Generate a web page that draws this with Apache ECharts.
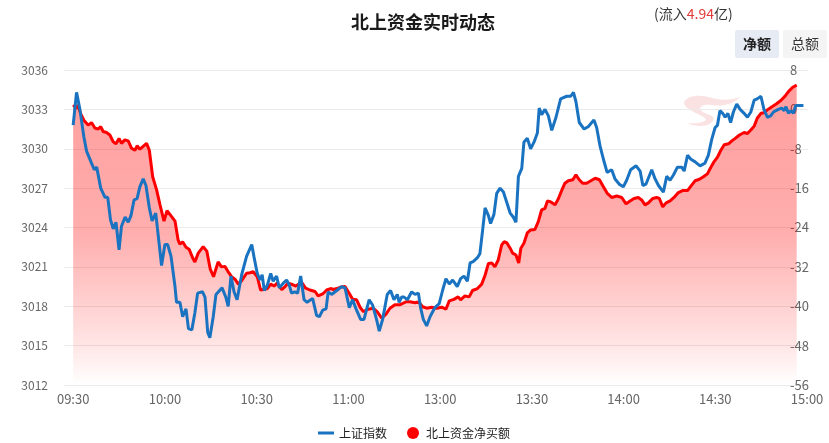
<!DOCTYPE html>
<html><head><meta charset="utf-8">
<script src="https://cdn.jsdelivr.net/npm/echarts@6/dist/echarts.min.js"></script>
<style>html,body{margin:0;padding:0;background:#fff}#c{width:829px;height:443px}</style>
</head><body><div id="c"></div>
<script>
// minutes since 09:30 (trading minutes, lunch break removed)
const tickMinutes = [0, 30, 60, 90, 120, 150, 180, 210, 240];
const tickLabels = ['09:30', '10:00', '10:30', '11:00', '13:00', '13:30', '14:00', '14:30', '15:00'];

// 上证指数
const indexMinutes = [0,1.1,2.2,3.5,4.4,6.0,6.9,7.7,8.2,9.0,
10.4,11.3,12.2,13.1,14.0,15.0,15.8,17.0,18.0,18.9,
19.9,20.9,21.8,22.9,23.8,24.9,25.8,27.0,28.0,28.9,
30.0,30.9,32.0,33.3,33.8,34.9,35.8,36.9,37.7,38.8,
39.8,40.7,42.3,43.1,44.0,44.7,45.8,46.7,48.7,49.9,
50.7,51.6,52.6,53.6,55.1,56.7,58.4,59.1,60.2,61.1,
61.8,62.5,63.5,64.6,65.4,66.5,67.4,68.5,69.8,70.7,
71.4,72.5,73.4,74.4,75.5,76.5,78.3,79.6,80.5,81.6,
82.7,83.4,84.5,86.2,87.8,88.9,90.3,91.4,92.5,94.0,
95.1,96.8,97.9,99.2,100.1,101.2,102.7,103.8,104.9,106.0,
106.6,107.4,108.2,109.3,110.7,111.8,112.9,113.6,114.5,115.6,
116.7,118.3,119.7,120.8,121.9,123.0,124.1,125.6,126.7,127.8,
128.9,129.8,130.8,132.2,133.0,133.9,134.7,135.8,136.5,137.6,
138.5,139.6,140.7,141.8,142.9,143.9,144.8,145.6,146.7,147.4,
148.5,149.6,150.7,151.8,152.4,153.2,154.3,155.4,156.5,157.9,
159.4,161.4,162.7,163.6,164.4,165.5,167.1,168.5,170.3,171.2,
172.3,173.4,174.6,176.1,177.2,178.6,179.9,181.0,182.3,184.1,
185.4,186.3,187.3,189.2,190.3,191.4,193.0,194.1,195.2,196.3,
197.6,199.0,199.8,200.9,202.0,203.4,205.0,206.6,207.7,208.8,
209.9,210.7,211.5,212.4,213.2,214.1,215.0,215.9,217.0,218.1,
219.4,220.5,221.6,222.7,223.7,224.9,225.9,227.0,228.1,229.0,
230.6,231.7,232.5,233.1,233.9,234.7,235.5,236.3,237.2,238.8];
const indexValues = [3031.8,3034.3,3033.0,3030.9,3029.8,3028.9,3028.4,3028.6,3028.5,3027.0,
3026.3,3026.3,3024.6,3023.9,3024.4,3022.3,3024.1,3024.8,3024.4,3024.9,
3026.1,3026.2,3027.1,3027.7,3027.2,3025.5,3024.5,3025.1,3023.0,3021.1,
3022.7,3022.7,3021.8,3019.5,3018.3,3018.3,3017.2,3017.8,3016.3,3016.2,
3017.5,3019.0,3019.1,3018.7,3016.0,3015.6,3017.2,3018.9,3019.4,3018.7,
3018.0,3020.3,3019.1,3018.5,3020.4,3021.8,3022.7,3021.8,3020.5,3020.0,
3020.4,3019.2,3019.6,3020.5,3019.9,3020.3,3019.4,3019.7,3020.0,3019.6,
3019.0,3019.1,3019.0,3020.3,3018.5,3018.3,3018.6,3017.3,3017.2,3017.7,
3017.8,3019.1,3018.9,3019.2,3019.5,3019.4,3017.9,3018.5,3017.8,3017.0,
3017.0,3018.5,3018.1,3017.0,3016.1,3017.0,3018.9,3019.2,3018.5,3018.9,
3018.3,3018.7,3018.7,3018.5,3019.1,3018.9,3019.0,3017.9,3017.0,3016.5,
3017.2,3017.9,3018.2,3019.2,3020.1,3019.7,3020.0,3019.5,3020.1,3020.3,
3019.9,3021.3,3021.4,3021.7,3022.0,3023.8,3025.5,3024.9,3024.3,3025.0,
3026.6,3027.0,3026.7,3025.9,3025.1,3024.8,3024.4,3027.9,3028.5,3030.5,
3030.8,3030.0,3030.5,3031.2,3033.1,3032.6,3033.0,3032.5,3031.4,3032.4,
3033.8,3034.0,3034.0,3034.3,3033.6,3032.0,3031.5,3031.7,3032.2,3031.6,
3030.2,3029.2,3028.2,3028.4,3027.7,3027.3,3027.1,3027.6,3028.4,3028.7,
3028.3,3027.2,3027.3,3028.4,3027.7,3027.2,3026.7,3027.9,3027.6,3028.0,
3028.6,3028.6,3028.3,3029.5,3029.2,3029.0,3028.7,3028.9,3029.5,3030.7,
3031.6,3031.8,3032.9,3032.7,3032.4,3032.7,3032.0,3032.8,3033.4,3033.0,
3032.7,3032.4,3032.8,3033.7,3033.8,3034.0,3033.0,3032.4,3032.5,3032.8,
3033.0,3033.1,3032.9,3033.2,3032.7,3032.9,3032.7,3033.3,3033.3,3033.3];

// 北上资金净买额 (亿)
const flowMinutes = [0,1.1,1.6,2.4,3.5,4.9,6.0,7.1,8.2,9.0,
9.8,10.9,12.0,13.1,14.0,15.0,15.8,16.9,18.0,19.1,
20.2,20.9,21.8,22.7,24.0,24.9,26.0,27.3,28.4,29.7,
30.7,32.2,33.3,34.3,34.9,35.8,36.9,37.9,39.1,39.8,
40.9,42.5,43.7,44.8,45.9,47.4,48.5,49.6,50.7,51.8,
52.9,54.0,55.1,56.7,57.8,58.9,60.2,61.3,62.4,63.5,
64.6,65.7,66.7,68.2,69.3,70.3,71.4,72.8,73.8,74.9,
76.0,77.4,79.1,80.1,81.6,82.9,84.2,85.1,86.2,87.5,
88.9,90.3,91.4,92.7,93.8,94.9,96.5,98.1,99.4,100.9,
102.3,103.6,105.2,106.9,108.8,110.1,111.8,112.9,114.3,115.6,
117.2,118.9,120.5,121.9,123.0,124.5,125.9,126.7,128.1,129.5,
130.6,132.2,133.6,134.7,135.8,136.9,137.9,139.0,140.1,140.9,
141.8,142.9,143.7,144.8,145.7,146.4,147.4,148.5,149.6,151.0,
152.1,153.2,154.3,155.1,156.2,157.6,158.7,159.8,160.8,161.9,
163.4,164.4,165.5,166.6,167.9,169.3,170.7,172.1,173.3,174.6,
176.1,177.8,179.4,180.8,182.1,183.4,184.8,185.9,187.0,188.1,
189.5,190.8,191.7,192.8,193.9,195.2,196.5,197.9,199.3,200.9,
202.0,203.4,204.8,206.1,207.4,208.5,209.6,210.7,211.8,212.9,
214.3,215.4,216.5,217.9,219.4,220.5,221.6,222.7,223.7,224.9,
225.9,227.0,228.4,229.9,231.4,232.8,233.9,235.3,236.6];
const flowValues = [0.9,0.2,0.9,-0.8,-2.2,-3.2,-2.7,-3.8,-4.0,-3.5,
-4.5,-4.7,-5.2,-6.6,-7.0,-5.9,-6.9,-6.2,-6.4,-7.9,
-8.3,-7.4,-8.1,-7.6,-6.9,-8.3,-13.7,-16.4,-19.4,-22.7,
-20.6,-21.8,-22.7,-26.5,-27.4,-26.9,-28.0,-28.4,-30.2,-31.0,
-29.2,-27.9,-28.8,-32.4,-34.0,-31.0,-32.0,-31.9,-33.0,-34.0,
-34.5,-35.5,-34.8,-33.3,-33.2,-33.0,-34.0,-36.7,-36.6,-36.4,
-35.5,-35.9,-35.3,-36.6,-36.0,-35.3,-35.5,-35.9,-35.5,-35.3,
-36.3,-36.7,-37.0,-37.9,-37.5,-36.7,-36.4,-36.6,-36.4,-36.1,
-36.0,-37.4,-38.6,-38.7,-40.2,-41.1,-40.6,-40.4,-41.1,-42.4,
-41.6,-40.4,-39.7,-39.7,-39.1,-39.1,-39.3,-39.1,-40.1,-40.4,
-40.2,-40.4,-40.2,-40.6,-38.9,-38.6,-38.1,-38.7,-37.9,-38.1,
-36.8,-36.4,-35.5,-33.7,-31.3,-31.2,-32.0,-30.6,-27.6,-26.9,
-27.1,-28.2,-29.2,-29.6,-31.2,-28.2,-27.2,-25.1,-24.5,-24.4,
-22.8,-20.4,-20.1,-18.6,-18.8,-19.4,-18.1,-16.4,-15.0,-14.5,
-14.3,-13.3,-14.3,-15.0,-15.0,-14.5,-14.0,-14.3,-15.6,-17.0,
-17.9,-17.6,-17.9,-19.2,-18.6,-18.1,-17.9,-18.4,-19.4,-19.0,
-18.1,-17.9,-18.1,-19.8,-19.0,-18.6,-17.9,-16.9,-16.5,-16.5,
-15.6,-14.5,-14.2,-13.7,-13.1,-11.8,-10.6,-9.7,-8.3,-7.2,
-7.0,-6.4,-5.9,-5.2,-4.7,-4.9,-4.2,-3.4,-1.8,-0.8,
-0.7,-0.1,0.5,1.1,1.8,2.7,3.6,4.5,4.94];

const netInflow = '4.94';

const FONT = '"Noto Sans CJK SC", "Noto Sans", sans-serif';
const chart = echarts.init(document.getElementById('c'), null, {renderer: 'canvas'});

const indexData = indexMinutes.map((m, i) => [m, indexValues[i]]);
const flowData = flowMinutes.map((m, i) => [m, flowValues[i]]);

const logoSvg = 'data:image/svg+xml;utf8,' + encodeURIComponent(
  '<svg xmlns="http://www.w3.org/2000/svg" width="60" height="34" viewBox="0 0 60 34">' +
  '<path d="M2,10 C6,3 18,2 30,6 C40,9 50,8 58,5 C52,12 40,15 30,13 C24,12 18,13 18,17 C20,21 26,22 30,24 C34,27 30,33 20,34 C14,34 8,33 6,31 C16,32 24,30 24,27 C22,24 14,22 10,19 C6,17 2,14 2,10 Z" fill="rgb(238,140,140)" fill-opacity="0.25"/>' +
  '</svg>');

const option = {
  animation: false,
  backgroundColor: '#fff',
  textStyle: {fontFamily: FONT},
  title: {
    text: '北上资金实时动态',
    left: 346, top: 8,
    textStyle: {fontSize: 18, fontWeight: 'bold', color: '#1a1a1a', fontFamily: FONT}
  },
  graphic: [
    {
      type: 'text', x: 654, y: 7,
      style: {
        text: '{a|(流入}{b|' + netInflow + '}{a|亿)}',
        rich: {
          a: {fontSize: 14, fill: '#333', fontFamily: FONT},
          b: {fontSize: 14, fill: '#e23b3b', fontFamily: FONT}
        }
      }
    },
    {type: 'rect', shape: {x: 735, y: 30, width: 44, height: 28, r: 2}, style: {fill: '#e7ebf4'}},
    {type: 'text', x: 757, y: 44, style: {text: '净额', fontSize: 14, fontWeight: 'bold', fill: '#222', align: 'center', verticalAlign: 'middle', fontFamily: FONT}},
    {type: 'rect', shape: {x: 783, y: 30, width: 44, height: 28, r: 2}, style: {fill: '#f4f4f5'}},
    {type: 'text', x: 805, y: 44, style: {text: '总额', fontSize: 14, fill: '#333', align: 'center', verticalAlign: 'middle', fontFamily: FONT}},
    {type: 'image', x: 682, y: 92, z: 0, silent: true, style: {image: logoSvg, width: 60, height: 34}}
  ],
  legend: {
    left: 313, top: 422,
    itemGap: 20, itemWidth: 16, itemHeight: 12,
    textStyle: {fontSize: 12, color: '#222', fontFamily: FONT},
    data: [
      {name: '上证指数', icon: 'path://M0,0H16V3H0Z'},
      {name: '北上资金净买额', icon: 'circle'}
    ]
  },
  grid: {left: 64, right: 21, top: 70, bottom: 58, containLabel: false, outerBoundsMode: 'none'},
  xAxis: {
    type: 'value', min: -3, max: 240.3,
    axisLine: {show: false}, axisTick: {show: false}, splitLine: {show: false},
    axisLabel: {
      customValues: tickMinutes,
      formatter: v => tickLabels[tickMinutes.indexOf(v)],
      color: '#666', fontSize: 13, margin: 8, fontFamily: FONT
    }
  },
  yAxis: [
    {
      type: 'value', position: 'left', min: 3012, max: 3036, interval: 3,
      axisLine: {show: false}, axisTick: {show: false},
      splitLine: {lineStyle: {color: '#ebebeb', width: 1}},
      axisLabel: {color: '#666', fontSize: 12, margin: 16, fontFamily: FONT, formatter: v => String(v)}
    },
    {
      type: 'value', position: 'right', min: -56, max: 8, interval: 8, offset: -20,
      axisLine: {show: false}, axisTick: {show: false}, splitLine: {show: false},
      axisLabel: {color: '#666', fontSize: 13, margin: 2, fontFamily: FONT, formatter: v => String(v)}
    }
  ],
  series: [
    {
      name: '北上资金净买额', type: 'line', yAxisIndex: 1, data: flowData,
      symbol: 'none', z: 2,
      lineStyle: {color: '#ff0000', width: 3},
      itemStyle: {color: '#ff0000'},
      areaStyle: {
        origin: 'start',
        color: new echarts.graphic.LinearGradient(0, 0, 0, 1, [
          {offset: 0, color: 'rgba(255,0,0,0.55)'},
          {offset: 0.5, color: 'rgba(255,0,0,0.45)'},
          {offset: 0.72, color: 'rgba(255,0,0,0.27)'},
          {offset: 0.87, color: 'rgba(255,0,0,0.14)'},
          {offset: 1, color: 'rgba(255,0,0,0.0)'}
        ])
      }
    },
    {
      name: '上证指数', type: 'line', yAxisIndex: 0, data: indexData,
      symbol: 'none', z: 3,
      lineStyle: {color: '#1a73c1', width: 3},
      itemStyle: {color: '#1a73c1'}
    }
  ]
};
chart.setOption(option);
</script>
</body></html>
